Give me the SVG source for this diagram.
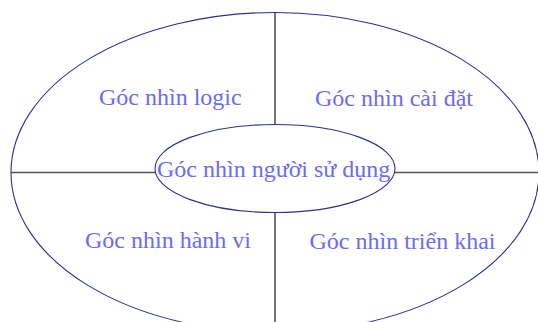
<svg xmlns="http://www.w3.org/2000/svg" width="538" height="322" viewBox="0 0 538 322">
<style>
.ell{fill:none;stroke:#2e2e8f;stroke-width:1.1}
.ln{stroke:#555;stroke-width:1.6}
.t{font-family:"Liberation Serif","Times New Roman",serif;font-size:24px;fill:#6b6bf5}
</style>
<rect width="538" height="322" fill="#fff"/>
<g id="connectors">
<line class="ln" x1="275" y1="12.5" x2="275" y2="124.5"/>
<line class="ln" x1="275" y1="212.5" x2="275" y2="322"/>
<line class="ln" x1="11" y1="172.5" x2="155" y2="172.5"/>
<line class="ln" x1="395" y1="172.5" x2="538" y2="172.5"/>
</g>
<g id="outer"><ellipse class="ell" cx="275" cy="172.5" rx="264" ry="160"/></g>
<g id="logic"><text class="t" x="99" y="105">Góc nhìn logic</text></g>
<g id="caidat"><text class="t" x="315" y="106">Góc nhìn cài đặt</text></g>
<g id="hanhvi"><text class="t" x="85" y="248">Góc nhìn hành vi</text></g>
<g id="trienkhai"><text class="t" x="309.5" y="249">Góc nhìn triển khai</text></g>
<g id="nguoisudung"><ellipse class="ell" cx="275" cy="168.5" rx="120" ry="44" fill="#fff"/><text class="t" x="157" y="177">Góc nhìn người sử dụng</text></g>
</svg>
